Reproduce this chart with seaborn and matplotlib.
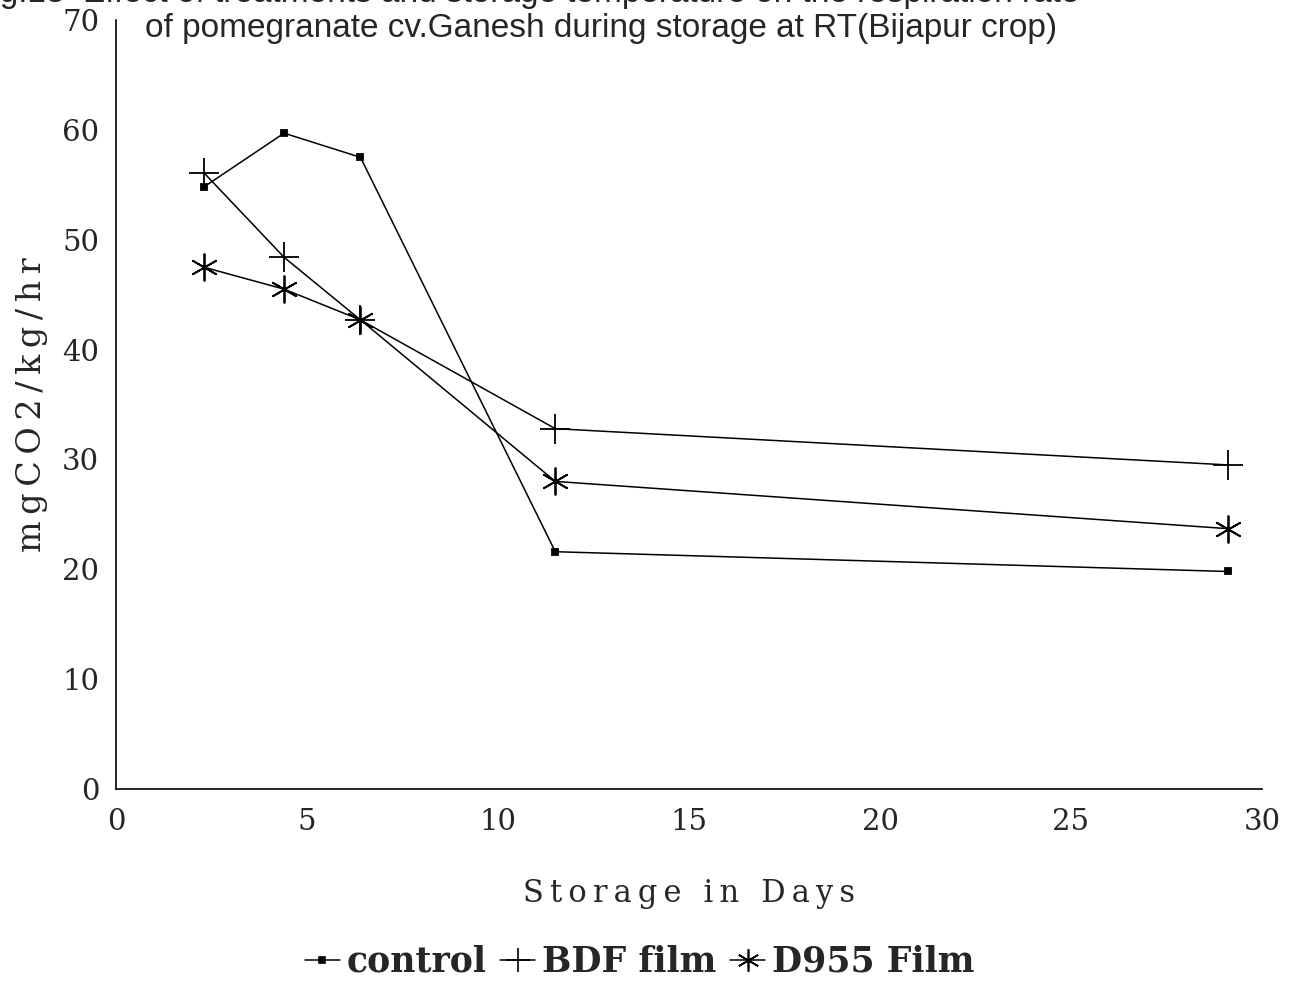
import matplotlib
matplotlib.use("Agg")
import matplotlib.pyplot as plt
import seaborn as sns
import pandas as pd
from matplotlib.lines import Line2D

days = [2.3, 4.4, 6.4, 11.5, 29.1]
control = [54.8, 59.7, 57.5, 21.6, 19.8]
bdf = [56.1, 48.4, 42.7, 32.8, 29.5]
d955 = [47.5, 45.5, 42.7, 28.0, 23.7]
series_names = ["control", "BDF film", "D955 Film"]
xticks = [0, 5, 10, 15, 20, 25, 30]
yticks = [0, 10, 20, 30, 40, 50, 60, 70]

sns.set_style("white")
plt.rcParams["font.family"] = ["DejaVu Serif"]

fig = plt.figure(figsize=(13.08, 9.83), dpi=100)
ax = fig.add_axes([116/1308, 1-789/983, (1262-116)/1308, (789-20)/983])

markers = {"control": "s", "BDF film": "+", "D955 Film": (6, 2, 0)}
sizes_map = {"control": 5, "BDF film": 22, "D955 Film": 20}
for name, vals in zip(series_names, [control, bdf, d955]):
    d = pd.DataFrame({"day": days, "value": vals})
    sns.lineplot(data=d, x="day", y="value", color="black", marker=markers[name],
                 markersize=sizes_map[name], markeredgewidth=1.3,
                 markeredgecolor="black", markerfacecolor="black",
                 linewidth=1.1, ax=ax, legend=False)

ax.set_xlim(0, 30)
ax.set_ylim(0, 70)
ax.set_xticks(xticks)
ax.set_yticks(yticks)
ax.tick_params(axis="both", length=0, labelsize=21)
ax.tick_params(axis="x", pad=14)
ax.tick_params(axis="y", pad=12)
for s in ["top", "right"]:
    ax.spines[s].set_visible(False)
for s in ["left", "bottom"]:
    ax.spines[s].set_color("black")
    ax.spines[s].set_linewidth(1.2)

ts = "\u2009"
ax.set_xlabel(ts.join("Storage in Days"), fontsize=22, labelpad=30)
ax.set_ylabel(ts.join("mgCO2/kg/hr"), fontsize=24, labelpad=10)

handles = [Line2D([0], [0], color="black", marker=markers[n], markersize=sizes_map[n] * 0.8,
                  markeredgewidth=1.2, linewidth=1.1) for n in series_names]
fig.legend(handles, series_names, loc="center", bbox_to_anchor=(0.489, 1 - 962/983),
           ncol=3, frameon=False, handlelength=1.0, handletextpad=0.2,
           columnspacing=0.4, prop={"family": "DejaVu Serif", "weight": "bold", "size": 25})

fig.text(-28/1308, 1 + 6/983, "Fig.13  Effect of treatments and storage temperature on the respiration rate",
         fontsize=24, family="Liberation Sans", ha="left", va="center")
fig.text(145/1308, 1 - 28/983, "of pomegranate cv.Ganesh during storage at RT(Bijapur crop)",
         fontsize=24, family="Liberation Sans", ha="left", va="center")

fig.savefig("out.png", dpi=100)
